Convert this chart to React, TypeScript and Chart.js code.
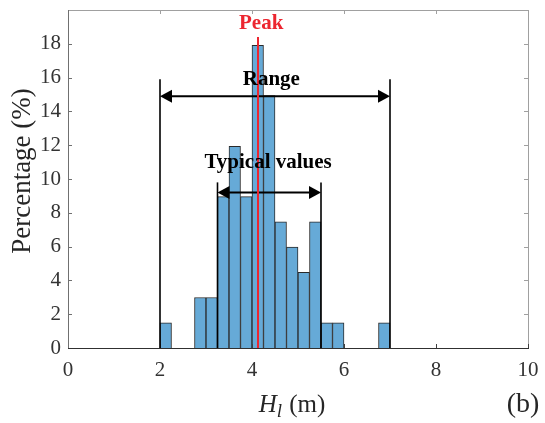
import React, { useEffect, useRef } from "react";
import { Chart, registerables } from "chart.js";

Chart.register(...registerables);

// ---- data ----
const binStarts = [2.0, 2.75, 3.0, 3.25, 3.5, 3.75, 4.0, 4.25, 4.5, 4.75, 5.0, 5.25, 5.5, 5.75, 6.75];
const percentages = [1.49, 2.99, 2.99, 8.96, 11.94, 8.96, 17.91, 14.93, 7.46, 5.97, 4.48, 7.46, 1.49, 1.49, 1.49];
const binWidth = 0.25;
const xTickValues = [0, 2, 4, 6, 8, 10];
const yTickValues = [0, 2, 4, 6, 8, 10, 12, 14, 16, 18];

const peakValue = 4.12;
const peakLine = [18.4, 19.2]; // line top, label y
const rangeBounds = [2.0, 7.0];
const rangeLevels = [15.9, 14.9, 15.9]; // line top, arrow y, label y
const rangeLabelX = 4.42;
const typicalBounds = [3.25, 5.5];
const typicalLevels = [9.8, 9.2, 11.0];
const typicalLabelX = 4.35;

const SERIF = "'Liberation Serif', 'Times New Roman', serif";

function arrow(ctx: CanvasRenderingContext2D, x1: number, x2: number, y: number) {
  const L = 12, H = 6.5;
  ctx.strokeStyle = "#000";
  ctx.lineWidth = 2;
  ctx.beginPath();
  ctx.moveTo(x1 + L - 1, y);
  ctx.lineTo(x2 - L + 1, y);
  ctx.stroke();
  ctx.fillStyle = "#000";
  ctx.beginPath();
  ctx.moveTo(x1, y);
  ctx.lineTo(x1 + L, y - H);
  ctx.lineTo(x1 + L, y + H);
  ctx.closePath();
  ctx.fill();
  ctx.beginPath();
  ctx.moveTo(x2, y);
  ctx.lineTo(x2 - L, y - H);
  ctx.lineTo(x2 - L, y + H);
  ctx.closePath();
  ctx.fill();
}

const overlay = {
  id: "overlay",
  afterDatasetsDraw(chart: any) {
    const { ctx, chartArea: a, scales } = chart;
    const x = scales.x, y = scales.y;
    ctx.save();

    // box
    ctx.lineWidth = 1;
    ctx.strokeStyle = "#a0a0a0";
    ctx.beginPath();
    ctx.moveTo(a.left, a.top + 0.5);
    ctx.lineTo(a.right + 0.5, a.top + 0.5);
    ctx.lineTo(a.right + 0.5, a.bottom);
    ctx.stroke();
    // ticks
    xTickValues.forEach((v) => {
      const px = Math.round(x.getPixelForValue(v)) + 0.5;
      ctx.strokeStyle = "#a0a0a0";
      ctx.beginPath(); ctx.moveTo(px, a.top); ctx.lineTo(px, a.top + 4); ctx.stroke();
      ctx.strokeStyle = "#404040";
      ctx.beginPath(); ctx.moveTo(px, a.bottom); ctx.lineTo(px, a.bottom - 4); ctx.stroke();
    });
    yTickValues.forEach((v) => {
      const py = Math.round(y.getPixelForValue(v)) + 0.5;
      ctx.strokeStyle = "#a0a0a0";
      ctx.beginPath(); ctx.moveTo(a.right, py); ctx.lineTo(a.right - 4, py); ctx.stroke();
      ctx.strokeStyle = "#707070";
      ctx.beginPath(); ctx.moveTo(a.left, py); ctx.lineTo(a.left + 4, py); ctx.stroke();
    });
    ctx.strokeStyle = "#707070";
    ctx.beginPath();
    ctx.moveTo(a.left + 0.5, a.top);
    ctx.lineTo(a.left + 0.5, a.bottom);
    ctx.stroke();
    ctx.strokeStyle = "#303030";
    ctx.beginPath();
    ctx.moveTo(a.left, a.bottom + 0.5);
    ctx.lineTo(a.right + 1, a.bottom + 0.5);
    ctx.stroke();

    // range
    const r1 = x.getPixelForValue(rangeBounds[0]);
    const r2 = x.getPixelForValue(rangeBounds[1]);
    const y0 = y.getPixelForValue(0);
    ctx.strokeStyle = "#000";
    ctx.lineWidth = 1.6;
    [r1, r2].forEach((px) => {
      ctx.beginPath(); ctx.moveTo(px, y.getPixelForValue(rangeLevels[0])); ctx.lineTo(px, y0); ctx.stroke();
    });
    arrow(ctx, r1, r2, y.getPixelForValue(rangeLevels[1]));

    const t1 = x.getPixelForValue(typicalBounds[0]);
    const t2 = x.getPixelForValue(typicalBounds[1]);
    ctx.strokeStyle = "#000";
    ctx.lineWidth = 1.6;
    [t1, t2].forEach((px) => {
      ctx.beginPath(); ctx.moveTo(px, y.getPixelForValue(typicalLevels[0])); ctx.lineTo(px, y0); ctx.stroke();
    });
    arrow(ctx, t1, t2, y.getPixelForValue(typicalLevels[1]));

    // peak
    const pp = Math.round(x.getPixelForValue(peakValue));
    ctx.strokeStyle = "#ec2630";
    ctx.lineWidth = 2;
    ctx.beginPath(); ctx.moveTo(pp, y.getPixelForValue(peakLine[0])); ctx.lineTo(pp, y0); ctx.stroke();

    ctx.textAlign = "center";
    ctx.textBaseline = "middle";
    ctx.font = `bold 21px ${SERIF}`;
    ctx.fillStyle = "#ec2630";
    ctx.fillText("Peak", x.getPixelForValue(peakValue + 0.08), y.getPixelForValue(peakLine[1]));
    ctx.fillStyle = "#000";
    ctx.fillText("Range", x.getPixelForValue(rangeLabelX), y.getPixelForValue(rangeLevels[2]));
    ctx.fillText("Typical values", x.getPixelForValue(typicalLabelX), y.getPixelForValue(typicalLevels[2]));

    // axis titles
    ctx.fillStyle = "#262626";
    ctx.textBaseline = "alphabetic";
    ctx.textAlign = "left";
    const fH = `italic 25px ${SERIF}`;
    const fl = `italic 19px ${SERIF}`;
    const fm = `25px ${SERIF}`;
    ctx.font = fH; const wH = ctx.measureText("H").width;
    ctx.font = fl; const wl = ctx.measureText("l").width;
    ctx.font = fm; const wm = ctx.measureText(" (m)").width;
    const total = wH + wl + 1 + wm;
    let sx = 292 - total / 2;
    const base = 412;
    ctx.font = fH; ctx.fillText("H", sx, base); sx += wH;
    ctx.font = fl; ctx.fillText("l", sx, base + 5); sx += wl + 1;
    ctx.font = fm; ctx.fillText(" (m)", sx, base);

    ctx.font = `28px ${SERIF}`;
    ctx.textAlign = "center";
    ctx.fillText("(b)", 523, 412);

    ctx.save();
    ctx.translate(23, 171);
    ctx.rotate(-Math.PI / 2);
    ctx.font = `27px ${SERIF}`;
    ctx.textBaseline = "middle";
    ctx.fillText("Percentage (%)", 0, 0);
    ctx.restore();

    ctx.restore();
  },
};

export default function App() {
  const ref = useRef<HTMLCanvasElement | null>(null);
  useEffect(() => {
    if (!ref.current) return;
    const data = binStarts.map((s, i) => ({ x: s + binWidth / 2, y: percentages[i] }));
    const chart = new Chart(ref.current, {
      type: "bar",
      data: {
        datasets: [
          {
            data,
            backgroundColor: "#66aad7",
            borderColor: "#2a2a2a",
            borderWidth: 1,
            barPercentage: 1,
            categoryPercentage: 1,
          },
        ],
      },
      options: {
        animation: false,
        responsive: true,
        maintainAspectRatio: false,
        layout: { padding: { left: 0, top: 10, right: 17, bottom: 0 } },
        plugins: { legend: { display: false }, tooltip: { enabled: false } },
        scales: {
          x: {
            type: "linear",
            min: 0,
            max: 10,
            offset: false,
            grid: { display: false, drawTicks: false },
            border: { display: false },
            afterBuildTicks: (s: any) => { s.ticks = xTickValues.map((v) => ({ value: v })); },
            ticks: { font: { family: SERIF, size: 21 }, color: "#333", padding: 10, maxRotation: 0 },
            afterFit: (s: any) => { s.height = 75; s.paddingLeft = 0; s.paddingRight = 0; },
          },
          y: {
            min: 0,
            max: 20,
            grid: { display: false, drawTicks: false },
            border: { display: false },
            afterBuildTicks: (s: any) => { s.ticks = yTickValues.map((v) => ({ value: v })); },
            ticks: { font: { family: SERIF, size: 21 }, color: "#333", padding: 7 },
            afterFit: (s: any) => { s.width = 68; s.paddingTop = 0; s.paddingBottom = 0; },
          },
        },
      },
      plugins: [overlay],
    });
    return () => chart.destroy();
  }, []);
  return (
    <div style={{ position: "absolute", left: 0, top: 0, width: 545, height: 423, background: "#fff" }}>
      <canvas ref={ref} />
    </div>
  );
}
